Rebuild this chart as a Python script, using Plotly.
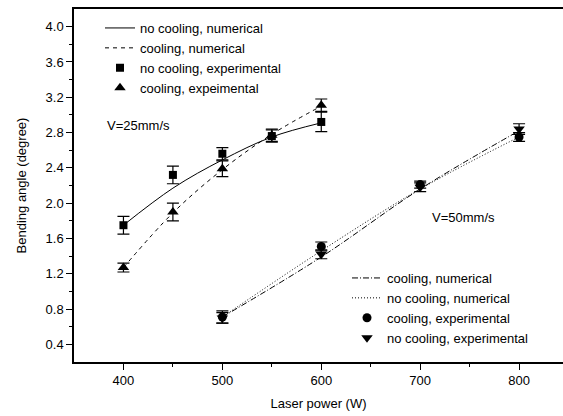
import plotly.graph_objects as go

# V = 25 mm/s
p25 = [400, 450, 500, 550, 600]
nocool_num25 = [1.75, 2.17, 2.49, 2.75, 2.91]
cool_num25 = [1.27, 1.89, 2.38, 2.78, 3.10]
nocool_exp25 = [1.75, 2.32, 2.56, 2.76, 2.92]
nocool_err25 = [0.10, 0.10, 0.07, 0.07, 0.11]
cool_exp25 = [1.27, 1.90, 2.39, 2.77, 3.11]
cool_err25 = [0.05, 0.10, 0.09, 0.07, 0.07]

# V = 50 mm/s
p50 = [500, 600, 700, 800]
cool_num50 = [0.71, 1.39, 2.16, 2.82]
nocool_num50 = [0.71, 1.46, 2.16, 2.75]
cool_exp50 = [0.71, 1.51, 2.21, 2.75]
cool_err50 = [0.07, 0.05, 0.04, 0.05]
nocool_exp50 = [0.70, 1.42, 2.18, 2.84]
nocool_err50 = [0.06, 0.05, 0.05, 0.06]

font = "Liberation Sans, Arial, sans-serif"
fig = go.Figure()

def line(x, y, name, dash, legend):
    fig.add_trace(go.Scatter(x=x, y=y, mode="lines", name=name, legend=legend,
                             line=dict(color="black", width=1, dash=dash, shape="spline")))

def pts(x, y, err, name, symbol, size, legend):
    fig.add_trace(go.Scatter(x=x, y=y, mode="markers", name=name, legend=legend,
                             marker=dict(color="black", symbol=symbol, size=size),
                             error_y=dict(type="data", array=err, color="black",
                                          thickness=1.2, width=6)))

line(p25, nocool_num25, "no cooling, numerical", "solid", "legend")
line(p25, cool_num25, "cooling, numerical", "4px,4px", "legend")
pts(p25, nocool_exp25, nocool_err25, "no cooling, experimental", "square", 8, "legend")
pts(p25, cool_exp25, cool_err25, "cooling, expeimental", "triangle-up", 10, "legend")

line(p50, cool_num50, "cooling, numerical", "6px,2px,1px,2px", "legend2")
line(p50, nocool_num50, "no cooling, numerical", "1px,2px", "legend2")
pts(p50, cool_exp50, cool_err50, "cooling, experimental", "circle", 9, "legend2")
pts(p50, nocool_exp50, nocool_err50, "no cooling, experimental", "triangle-down", 10, "legend2")

fig.add_annotation(x=415, y=2.88, text="V=25mm/s", showarrow=False,
                   font=dict(size=13, color="black", family=font))
fig.add_annotation(x=744, y=1.84, text="V=50mm/s", showarrow=False,
                   font=dict(size=13, color="black", family=font))

legend_style = dict(bgcolor="rgba(0,0,0,0)", borderwidth=0, tracegroupgap=0,
                    font=dict(size=13, color="black", family=font),
                    xanchor="left", yanchor="top", itemwidth=30)

fig.update_layout(
    width=563, height=416,
    margin=dict(l=74, r=0, t=9, b=54),
    paper_bgcolor="white", plot_bgcolor="white",
    font=dict(family=font, size=12, color="black"),
    legend=dict(x=(100 - 74) / 489, y=(362 - 13) / 353, **legend_style),
    legend2=dict(x=(347 - 74) / 489, y=(362 - 263) / 353, **legend_style),
    xaxis=dict(range=[350, 844.4], tickvals=[400, 500, 600, 700, 800],
               showgrid=False, zeroline=False, showline=True, linecolor="black",
               linewidth=1.5, mirror=True, ticks="outside", ticklen=6, tickwidth=1,
               tickcolor="black", minor=dict(tickvals=[450, 550, 650, 750], ticks="outside",
                                             ticklen=3, tickcolor="black"),
               title=dict(text="Laser power (W)", font=dict(size=13), standoff=12),
               tickfont=dict(size=13)),
    yaxis=dict(range=[0.2, 4.2], tickvals=[0.4, 0.8, 1.2, 1.6, 2.0, 2.4, 2.8, 3.2, 3.6, 4.0],
               tickformat=".1f",
               showgrid=False, zeroline=False, showline=True, linecolor="black",
               linewidth=1.5, mirror=False, ticks="outside", ticklen=6, tickwidth=1,
               tickcolor="black", minor=dict(tickvals=[0.6, 1.0, 1.4, 1.8, 2.2, 2.6, 3.0, 3.4, 3.8],
                                             ticks="outside", ticklen=3, tickcolor="black"),
               title=dict(text="Bending angle (degree)", font=dict(size=13), standoff=16),
               tickfont=dict(size=13)),
)

fig.write_html("out.html")
